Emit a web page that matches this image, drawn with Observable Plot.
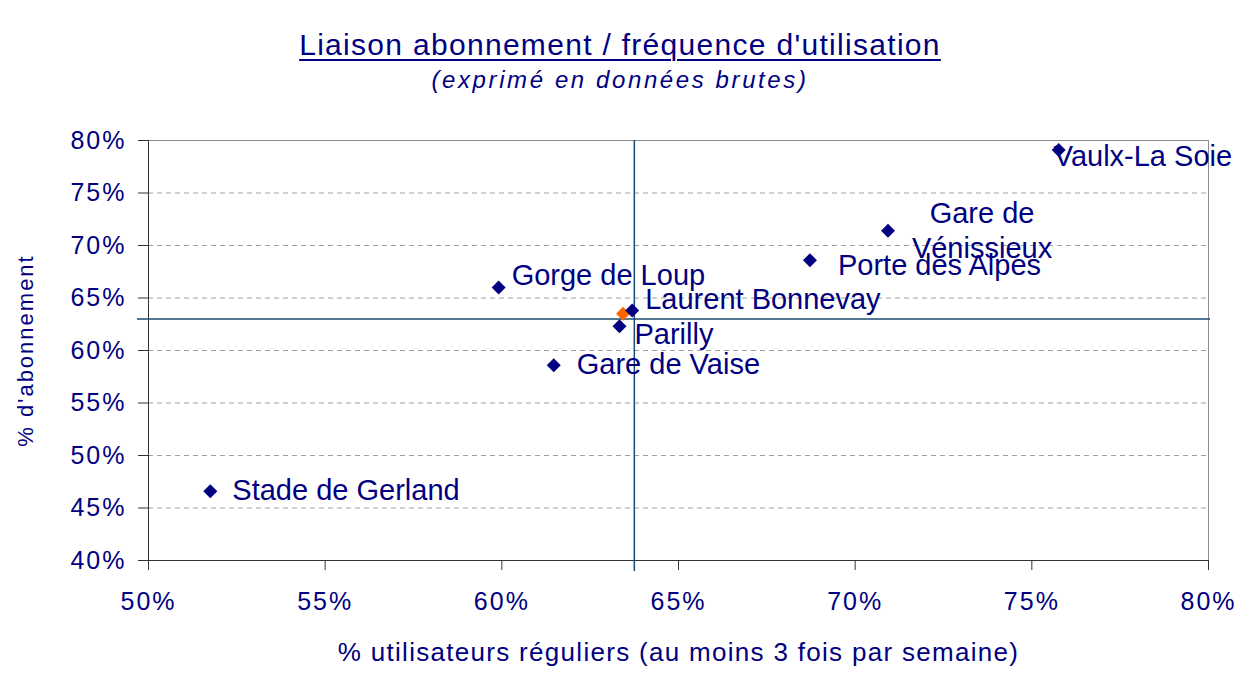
<!DOCTYPE html>
<html>
<head>
<meta charset="utf-8">
<script src="https://cdn.jsdelivr.net/npm/d3@7"></script>
<script src="https://cdn.jsdelivr.net/npm/@observablehq/plot@0.6"></script>
<style>
  body { margin: 0; background: #fff; font-family: "Liberation Sans", Arial, sans-serif; }
  #wrap { position: relative; width: 1237px; height: 675px; overflow: hidden; }
  #chart { position: absolute; left: 0; top: 0; }
  .t { position: absolute; left: 0; width: 1240px; text-align: center; color: #000080; white-space: nowrap; }
  #title { top: 27px; font-size: 30px; line-height: 36px; letter-spacing: 1.3px;
           text-decoration: underline; text-underline-offset: 4px; text-decoration-thickness: 2px; }
  #subtitle { top: 66px; font-size: 24px; line-height: 28px; font-style: italic; letter-spacing: 2.6px; }
</style>
</head>
<body>
<div id="wrap">
  <div id="chart"></div>
  <div id="title" class="t">Liaison abonnement / fréquence d'utilisation</div>
  <div id="subtitle" class="t">(exprimé en données brutes)</div>
</div>
<script>
// ---- data (values in %) ----
const stations = ["Vaulx-La Soie", "Gare de\nVénissieux", "Porte des Alpes", "Gorge de Loup",
                  "Laurent Bonnevay", "Parilly", "Gare de Vaise", "Stade de Gerland"];
const regularUsers = [75.76, 70.93, 68.72, 59.91, 63.69, 63.33, 61.47, 51.75];
const subscription = [79.1, 71.4, 68.6, 66.0, 63.8, 62.3, 58.6, 46.6];
const overallRegular = [63.43];
const overallSubscription = [63.5];
const refRegular = [63.75];
const refSubscription = [63.0];
const xTicks = [50, 55, 60, 65, 70, 75, 80];
const yTicks = [40, 45, 50, 55, 60, 65, 70, 75, 80];
const gridTicks = [45, 50, 55, 60, 65, 70, 75];
const xTitle = "% utilisateurs réguliers (au moins 3 fois par semaine)";
const yTitle = "% d'abonnement";

// ---- label layout (pixel offsets from each point) ----
const labelLayout = [
  {dx: -5, dy: 5, anchor: "start"},
  {dx: 94, dy: -1.5, anchor: "middle"},
  {dx: 28, dy: 4, anchor: "start"},
  {dx: 13, dy: -14, anchor: "start"},
  {dx: 13, dy: -12.5, anchor: "start"},
  {dx: 15, dy: 6, anchor: "start"},
  {dx: 23, dy: -2, anchor: "start"},
  {dx: 22, dy: -2, anchor: "start"}
];

const navy = "#000080";
const pts = stations.map((name, i) => ({name, x: regularUsers[i], y: subscription[i]}));
const overall = overallRegular.map((x, i) => ({x, y: overallSubscription[i]}));

const labelMarks = pts.map((p, i) => Plot.text([p], {
  x: "x", y: "y", text: "name",
  dx: labelLayout[i].dx, dy: labelLayout[i].dy,
  textAnchor: labelLayout[i].anchor,
  lineAnchor: "middle", lineHeight: 1.21,
  fontSize: 29, fill: navy
}));

const chart = Plot.plot({
  width: 1237,
  height: 675,
  marginTop: 140,
  marginBottom: 115,
  marginLeft: 148,
  marginRight: 29,
  style: {fontFamily: "'Liberation Sans', Arial, sans-serif", background: "white", overflow: "visible"},
  x: {domain: [50, 80]},
  y: {domain: [40, 80]},
  marks: [
    Plot.gridY(gridTicks, {stroke: "#a0a0a0", strokeOpacity: 1, strokeDasharray: "5,4"}),
    Plot.frame({stroke: "#8c8c8c"}),
    Plot.ruleX([50], {stroke: "#333"}),
    Plot.ruleY([40], {stroke: "#333"}),
    Plot.axisY({ticks: yTicks, tickFormat: d => d + "%", tickSize: 10, tickPadding: 12,
                fontSize: 25, color: navy, label: null}),
    Plot.axisX({ticks: xTicks, tickFormat: d => d + "%", tickSize: 10, tickPadding: 22,
                fontSize: 25, color: navy, label: null}),
    Plot.ruleY(refSubscription, {stroke: "#1b4a72", strokeWidth: 1.5, insetLeft: -11, insetRight: -2}),
    Plot.ruleX(refRegular, {stroke: "#1b4a72", strokeWidth: 1.5, insetBottom: -11}),
    Plot.dot(overall, {x: "x", y: "y", symbol: "diamond2", r: 6.3, fill: "#ff6600"}),
    Plot.dot(pts, {x: "x", y: "y", symbol: "diamond2", r: 6.3, fill: navy}),
    ...labelMarks,
    Plot.text([xTitle], {text: d => d, frameAnchor: "bottom", textAnchor: "middle", dy: 92,
                         lineAnchor: "middle", fontSize: 26, fill: navy}),
    Plot.text([yTitle], {text: d => d, frameAnchor: "left", textAnchor: "middle", dx: -123,
                         rotate: -90, lineAnchor: "middle", fontSize: 22, fill: navy})
  ]
});
document.getElementById("chart").appendChild(chart);

const s = d3.select(chart);
s.selectAll('g[aria-label="x-axis tick label"] text, g[aria-label="y-axis tick label"] text')
  .style("letter-spacing", "2px");
s.selectAll('g[aria-label="x-axis tick label"], g[aria-label="y-axis tick label"]').attr("fill", navy);
s.selectAll('g[aria-label="x-axis tick"], g[aria-label="y-axis tick"]').attr("stroke", "#333");
s.selectAll("text").each(function () {
  const t = this.textContent;
  if (t === xTitle) d3.select(this).style("letter-spacing", "1.3px");
  if (t === yTitle) d3.select(this).style("letter-spacing", "2px");
});
</script>
</body>
</html>
